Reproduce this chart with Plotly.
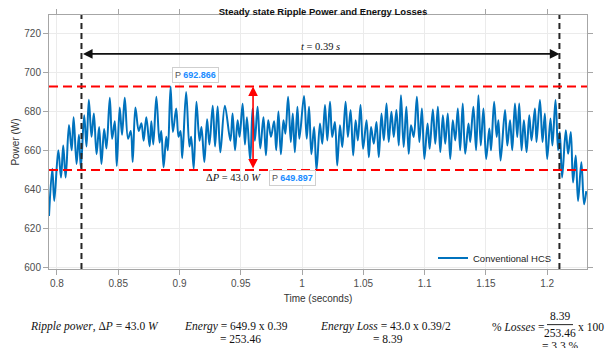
import plotly.graph_objects as go

# ---------------- data ----------------
# time (s) of successive local peaks / troughs of the power ripple
time_s = [
    0.7935, 0.7962, 0.7978, 0.8011, 0.8033, 0.8051, 0.8071, 0.8098, 0.8120, 0.8136, 0.8160, 0.8179,
    0.8195, 0.8222, 0.8241, 0.8260, 0.8282, 0.8301, 0.8323, 0.8344, 0.8363, 0.8385, 0.8404, 0.8431,
    0.8450, 0.8472, 0.8488, 0.8512, 0.8531, 0.8553, 0.8580, 0.8602, 0.8618, 0.8640,
    0.8667, 0.8689, 0.8707, 0.8729, 0.8756, 0.8770, 0.8786, 0.8811, 0.8837, 0.8851, 0.8870, 0.8892,
    0.8905, 0.8927, 0.8946, 0.8973, 0.8992, 0.9008, 0.9022, 0.9054, 0.9081, 0.9095, 0.9116, 0.9138,
    0.9163, 0.9179, 0.9203, 0.9225, 0.9244, 0.9271, 0.9290, 0.9311, 0.9333, 0.9370,
    0.9415, 0.9433, 0.9453, 0.9474, 0.9490, 0.9515, 0.9534, 0.9550, 0.9577, 0.9596, 0.9615, 0.9637,
    0.9659, 0.9685, 0.9705, 0.9724, 0.9746, 0.9772, 0.9789, 0.9807, 0.9827, 0.9848, 0.9864, 0.9886,
    0.9908, 0.9924, 0.9941, 0.9962, 0.9978, 1.0016, 1.0038, 1.0057, 1.0076, 1.0098, 1.0118,
    1.0146, 1.0165, 1.0187, 1.0206, 1.0228, 1.0246, 1.0268, 1.0287, 1.0309, 1.0328, 1.0355, 1.0374,
    1.0396, 1.0417, 1.0437, 1.0455, 1.0477, 1.0498, 1.0526, 1.0545, 1.0563, 1.0585, 1.0607, 1.0626,
    1.0648, 1.0667, 1.0689, 1.0707, 1.0729, 1.0748, 1.0770, 1.0789, 1.0807, 1.0829, 1.0851, 1.0870,
    1.0889, 1.0911, 1.0937, 1.0957, 1.0978, 1.0998, 1.1024, 1.1041, 1.1067, 1.1087, 1.1108, 1.1128,
    1.1149, 1.1168, 1.1189, 1.1209, 1.1230, 1.1250, 1.1271, 1.1290, 1.1311, 1.1331, 1.1358, 1.1372,
    1.1398, 1.1420, 1.1439, 1.1458, 1.1480, 1.1502, 1.1528, 1.1542, 1.1567, 1.1588,
    1.1602, 1.1620, 1.1656, 1.1675, 1.1697, 1.1715, 1.1737, 1.1756, 1.1772, 1.1791, 1.1810, 1.1832,
    1.1854, 1.1872, 1.1900, 1.1913, 1.1941, 1.1962, 1.1981, 1.2000, 1.2027, 1.2043, 1.2068, 1.2089,
    1.2103, 1.2122, 1.2152, 1.2171, 1.2193, 1.2211, 1.2233, 1.2252, 1.2279, 1.2301, 1.2319,
]
power_w = [
    626.3, 650.6, 634.0, 660.0, 646.0, 662.5, 646.0, 673.0, 660.0, 677.0, 653.0, 668.0,
    651.0, 678.0, 662.0, 686.0, 667.0, 679.0, 658.0, 672.0, 653.0, 671.0, 661.0, 687.0,
    666.0, 675.0, 652.0, 682.0, 668.0, 687.0, 666.0, 670.0, 654.0, 682.0,
    670.0, 674.0, 665.0, 677.0, 662.0, 675.0, 663.0, 687.6, 664.0, 670.0, 651.3, 667.0,
    660.0, 692.866, 669.5, 681.5, 667.0, 670.0, 656.0, 690.0, 662.0, 667.0, 650.5, 685.0,
    665.0, 672.0, 654.0, 676.0, 663.0, 683.0, 662.0, 682.5, 659.0, 683.0,
    665.0, 679.0, 660.0, 675.5, 667.0, 684.0, 663.0, 677.0, 654.8, 681.5, 665.0, 682.4,
    661.0, 677.0, 657.5, 675.5, 667.0, 675.0, 660.0, 680.0, 658.0, 675.5, 668.6, 687.6,
    664.3, 679.0, 659.0, 682.4, 666.0, 688.0, 666.0, 682.4, 658.0, 672.0, 649.897,
    673.8, 663.4, 683.3, 665.1, 685.0, 666.9, 674.6, 652.2, 672.9, 661.7, 685.0, 666.9,
    680.7, 657.4, 675.5, 665.1, 683.3, 660.8, 675.5, 656.5, 672.0, 663.4, 674.6, 656.5,
    679.0, 665.1, 684.1, 664.3, 679.8, 666.9, 680.7, 662.5, 688.4, 661.7, 682.4, 658.2,
    672.9, 666.9, 687.6, 664.3, 681.5, 655.6, 673.8, 660.8, 681.0, 663.4, 682.4, 659.1,
    678.1, 663.4, 679.0, 655.6, 675.5, 665.1, 681.5, 660.0, 684.1, 658.2, 673.8, 664.3,
    682.4, 660.0, 688.4, 662.5, 681.5, 655.6, 671.2, 660.0, 685.0, 666.9,
    675.5, 654.8, 680.7, 662.5, 675.5, 660.0, 684.1, 666.9, 684.1, 660.0, 675.5, 659.1,
    678.1, 665.1, 681.5, 664.3, 685.9, 664.3, 679.0, 655.6, 676.4, 662.5, 685.9, 660.0,
    669.5, 646.1, 670.3, 658.2, 669.5, 643.5, 657.4, 634.0, 653.9, 632.3, 639.0,
]

x_ticks = [0.8, 0.85, 0.9, 0.95, 1.0, 1.05, 1.1, 1.15, 1.2]
x_tick_text = ["0.8", "0.85", "0.9", "0.95", "1", "1.05", "1.1", "1.15", "1.2"]
y_ticks = [600, 620, 640, 660, 680, 700, 720]

t_start, t_end = 0.82, 1.21          # steady-state window
p_max, p_min = 692.866, 649.897      # data-tip values
t_ripple_arrow = 0.96                # where the ΔP arrow is drawn
p_time_arrow = 709.6                 # level of the duration arrow
series_name = "Conventional HCS"

# ---------------- geometry helpers ----------------
# the page body has an 8px margin, so the figure is drawn 8px in from the corner
OFF = 8
FW, FH = 616 - OFF, 348 - OFF
ML, MT = 49 - OFF, 15 - OFF
MR = FW - (587 - OFF)
MB = FH - (269.3 - OFF)
PW, PH = FW - ML - MR, FH - MT - MB


def xp(px):
    """screen pixel x -> paper fraction"""
    return (px - OFF - ML) / PW


def yp(py):
    """screen pixel y -> paper fraction"""
    return (MT + PH - (py - OFF)) / PH


SANS = "Liberation Sans, Arial, sans-serif"
SERIF = "Liberation Serif, Times New Roman, serif"
BLUE = "#0072BD"

fig = go.Figure()
fig.add_trace(go.Scatter(
    x=time_s, y=power_w, mode="lines", name=series_name,
    line=dict(color=BLUE, width=2, shape="spline", smoothing=1.0),
    hoverinfo="skip",
))

shapes = []
for t in (t_start, t_end):
    shapes.append(dict(type="line", xref="x", yref="paper", x0=t, x1=t, y0=0, y1=1,
                       line=dict(color="#262626", width=2, dash="6px,4px")))
for p in (p_max, p_min):
    shapes.append(dict(type="line", xref="paper", yref="y", x0=0, x1=1, y0=p, y1=p,
                       line=dict(color="#FF0000", width=2, dash="9px,5px")))
# fraction bar in the bottom formula
shapes.append(dict(type="line", xref="paper", yref="paper", x0=xp(547), x1=xp(573),
                   y0=yp(325), y1=yp(325), line=dict(color="#222", width=1)))

ann = []
# duration arrow
ann.append(dict(x=t_end, y=p_time_arrow, ax=t_start, ay=p_time_arrow, xref="x", yref="y",
                axref="x", ayref="y", text="", showarrow=True, arrowside="end+start",
                arrowhead=2, arrowsize=1.2, arrowwidth=1.6, arrowcolor="#111"))
ann.append(dict(x=(t_start + t_end) / 2, y=713.3, xref="x", yref="y", showarrow=False,
                text="<i>t</i> = 0.39 <i>s</i>", font=dict(family=SERIF, size=10.5, color="#111")))
# ripple arrow
ann.append(dict(x=t_ripple_arrow, y=p_max, ax=t_ripple_arrow, ay=p_min, xref="x", yref="y",
                axref="x", ayref="y", text="", showarrow=True, arrowside="end+start",
                arrowhead=2, arrowsize=1.2, arrowwidth=1.6, arrowcolor="#FF0000"))
ann.append(dict(x=0.9439, y=645.8, xref="x", yref="y", showarrow=False,
                text="Δ<i>P</i> = 43.0 <i>W</i>", font=dict(family=SERIF, size=10.5, color="#111")))
# data tips
tip_font = dict(family=SANS, size=9, color="#555")
ann.append(dict(x=0.9130, y=698.8, xref="x", yref="y", showarrow=False,
                text="P <b><span style='color:#1a8cff'>%.3f</span></b>" % p_max,
                font=tip_font, bgcolor="white", bordercolor="#cfcfcf", borderwidth=1, borderpad=2))
ann.append(dict(x=0.9924, y=645.6, xref="x", yref="y", showarrow=False,
                text="P <b><span style='color:#1a8cff'>%.3f</span></b>" % p_min,
                font=tip_font, bgcolor="white", bordercolor="#cfcfcf", borderwidth=1, borderpad=2))

# bottom formulas
ff = dict(family=SERIF, size=11.5, color="#111")


def btxt(x, y, s, anchor="left"):
    ann.append(dict(x=xp(x), y=yp(y), xref="paper", yref="paper", xanchor=anchor, yanchor="middle",
                    showarrow=False, text=s, font=ff))


btxt(28, 327, "<i>Ripple power</i>, Δ<i>P</i> = 43.0 <i>W</i>")
btxt(182, 327, "<i>Energy</i> = 649.9 x 0.39")
btxt(240, 339, "= 253.46", "center")
btxt(318, 327, "<i>Energy Loss</i> = 43.0 x 0.39/2")
btxt(388, 339, "= 8.39", "center")
btxt(490, 327, "% <i>Losses</i> =")
btxt(560, 316.5, "8.39", "center")
btxt(560, 333.5, "253.46", "center")
btxt(576, 327, "x 100")
btxt(560, 346, "= 3.3 %", "center")

axis_common = dict(showline=True, linecolor="#a6a6a6", linewidth=1, mirror="ticks",
                   ticks="outside", ticklen=5, tickcolor="#a6a6a6",
                   showgrid=True, gridcolor="#ebebeb", gridwidth=1, zeroline=False,
                   tickfont=dict(family=SANS, size=10, color="#4d4d4d"))

fig.update_layout(
    width=FW, height=FH, margin=dict(l=ML, r=MR, t=MT, b=MB, autoexpand=False),
    paper_bgcolor="white", plot_bgcolor="white",
    title=dict(text="<b>Steady state Ripple Power and Energy Losses</b>", x=xp(323), xanchor="center",
               xref="paper", yref="container", y=1 - 0.5 / FH, yanchor="top",
               pad=dict(t=0, b=0, l=0, r=0),
               font=dict(family=SANS, size=9.5, color="#111")),
    xaxis=dict(range=[0.7935, 1.2325], tickvals=x_ticks, ticktext=x_tick_text,
               title=dict(text="Time (seconds)", standoff=6,
                          font=dict(family=SANS, size=10, color="#333")), **axis_common),
    yaxis=dict(range=[599, 729.6], tickvals=y_ticks,
               title=dict(text="Power (W)", standoff=2,
                          font=dict(family=SANS, size=10, color="#333")), **axis_common),
    showlegend=True,
    legend=dict(x=xp(433), y=yp(258.3), xanchor="left", yanchor="middle", bgcolor="rgba(0,0,0,0)",
                borderwidth=0, font=dict(family=SANS, size=9.5, color="#222"), itemwidth=30),
    shapes=shapes, annotations=ann,
)

fig.write_html("out.html")
